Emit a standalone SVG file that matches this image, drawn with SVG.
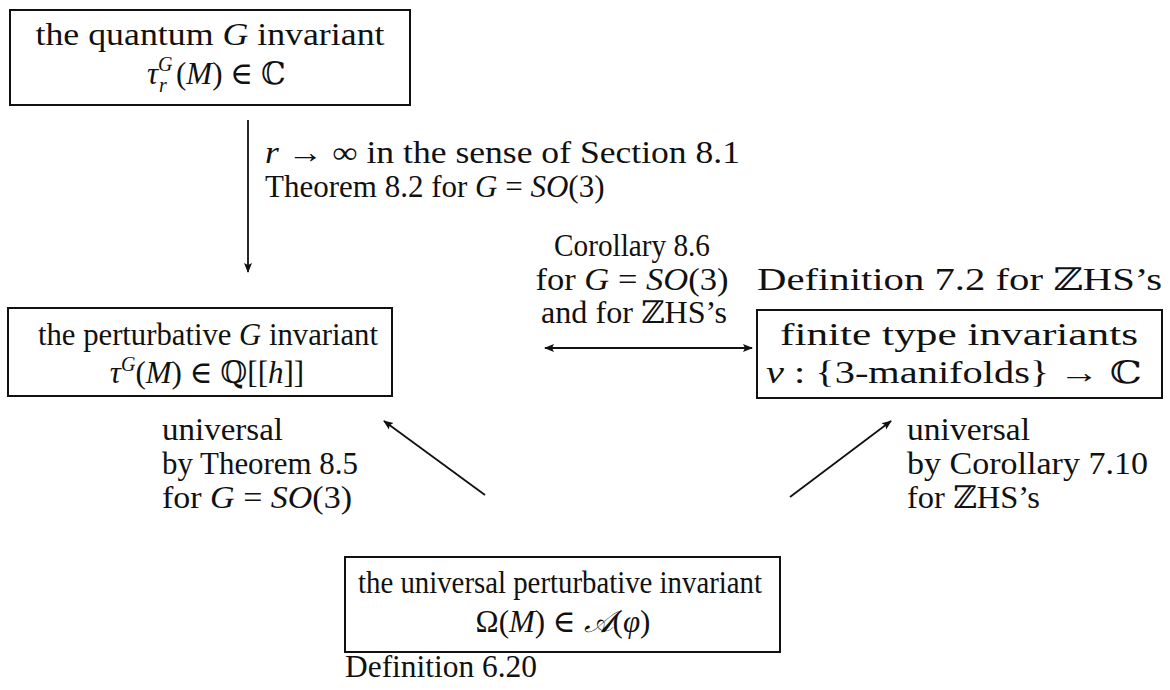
<svg xmlns="http://www.w3.org/2000/svg" width="1170" height="690" viewBox="0 0 1170 690">
<style>
text{font-family:"Liberation Serif","DejaVu Serif",serif;font-size:31px;fill:#111}
.c{text-anchor:middle}
.i{font-style:italic}
.box{fill:none;stroke:#111;stroke-width:2}
.ln{fill:none;stroke:#111;stroke-width:1.8}
.sup{font-size:20px}
</style>
<defs>
<marker id="ah" viewBox="0 0 10 10" refX="9" refY="5" markerWidth="10" markerHeight="10" markerUnits="userSpaceOnUse" orient="auto-start-reverse">
<path d="M0,1 L10,5 L0,9 L2,5 Z" fill="#111"/>
</marker>
</defs>
<rect width="1170" height="690" fill="#fff"/>
<g id="quantum">
<rect class="box" x="10" y="10" width="400" height="95"/>
<text class="c" x="210" y="45" textLength="349" lengthAdjust="spacingAndGlyphs">the quantum <tspan class="i">G</tspan> invariant</text>
<text x="147" y="84"><tspan class="i">τ</tspan><tspan class="i sup" dy="-13">G</tspan></text>
<text x="159" y="92" class="i sup">r</text>
<text x="176" y="84">(<tspan class="i">M</tspan>) ∈ ℂ</text>
</g>
<g id="perturbative">
<rect class="box" x="8" y="308" width="384" height="88"/>
<text class="c" x="208" y="345" textLength="340" lengthAdjust="spacingAndGlyphs">the perturbative <tspan class="i">G</tspan> invariant</text>
<text class="c" x="207" y="383"><tspan class="i">τ</tspan><tspan class="i sup" dy="-12">G</tspan><tspan dy="12">(</tspan><tspan class="i">M</tspan>) ∈ ℚ[[<tspan class="i">h</tspan>]]</text>
</g>
<g id="finite">
<text x="757" y="290" textLength="405" lengthAdjust="spacingAndGlyphs">Definition 7.2 for ℤHS’s</text>
<rect class="box" x="757" y="310" width="405" height="88"/>
<text class="c" x="959" y="345" textLength="358" lengthAdjust="spacingAndGlyphs">finite type invariants</text>
<text class="c" x="954" y="383" textLength="376" lengthAdjust="spacingAndGlyphs"><tspan class="i">v</tspan> : {3-manifolds} → ℂ</text>
</g>
<g id="universal">
<rect class="box" x="345" y="557" width="435" height="95"/>
<text class="c" x="560" y="593" textLength="404" lengthAdjust="spacingAndGlyphs">the universal perturbative invariant</text>
<text class="c" x="563" y="632">Ω(<tspan class="i">M</tspan>) ∈ <tspan class="i">𝒜</tspan>(<tspan class="i">φ</tspan>)</text>
<text x="345" y="677" textLength="192" lengthAdjust="spacingAndGlyphs">Definition 6.20</text>
</g>
<g id="connectors">
<line class="ln" x1="248" y1="120" x2="248" y2="272" marker-end="url(#ah)"/>
<line class="ln" x1="545" y1="348" x2="752" y2="348" marker-start="url(#ah)" marker-end="url(#ah)"/>
<line class="ln" x1="485" y1="495" x2="384" y2="421" marker-end="url(#ah)"/>
<line class="ln" x1="790" y1="497" x2="891" y2="421" marker-end="url(#ah)"/>
</g>
<g id="labels">
<text x="265" y="163" textLength="475" lengthAdjust="spacingAndGlyphs"><tspan class="i">r</tspan> → ∞ in the sense of Section 8.1</text>
<text x="265" y="197">Theorem 8.2 for <tspan class="i">G</tspan> = <tspan class="i">SO</tspan>(3)</text>
<text class="c" x="632" y="256" textLength="156" lengthAdjust="spacingAndGlyphs">Corollary 8.6</text>
<text class="c" x="632" y="290" textLength="193" lengthAdjust="spacingAndGlyphs">for <tspan class="i">G</tspan> = <tspan class="i">SO</tspan>(3)</text>
<text class="c" x="634" y="323" textLength="186" lengthAdjust="spacingAndGlyphs">and for ℤHS’s</text>
<text x="162" y="440" textLength="121" lengthAdjust="spacingAndGlyphs">universal</text>
<text x="162" y="474" textLength="196" lengthAdjust="spacingAndGlyphs">by Theorem 8.5</text>
<text x="162" y="508" textLength="190" lengthAdjust="spacingAndGlyphs">for <tspan class="i">G</tspan> = <tspan class="i">SO</tspan>(3)</text>
<text x="907" y="440" textLength="123" lengthAdjust="spacingAndGlyphs">universal</text>
<text x="907" y="474" textLength="241" lengthAdjust="spacingAndGlyphs">by Corollary 7.10</text>
<text x="907" y="508" textLength="133" lengthAdjust="spacingAndGlyphs">for ℤHS’s</text>
</g>
</svg>
